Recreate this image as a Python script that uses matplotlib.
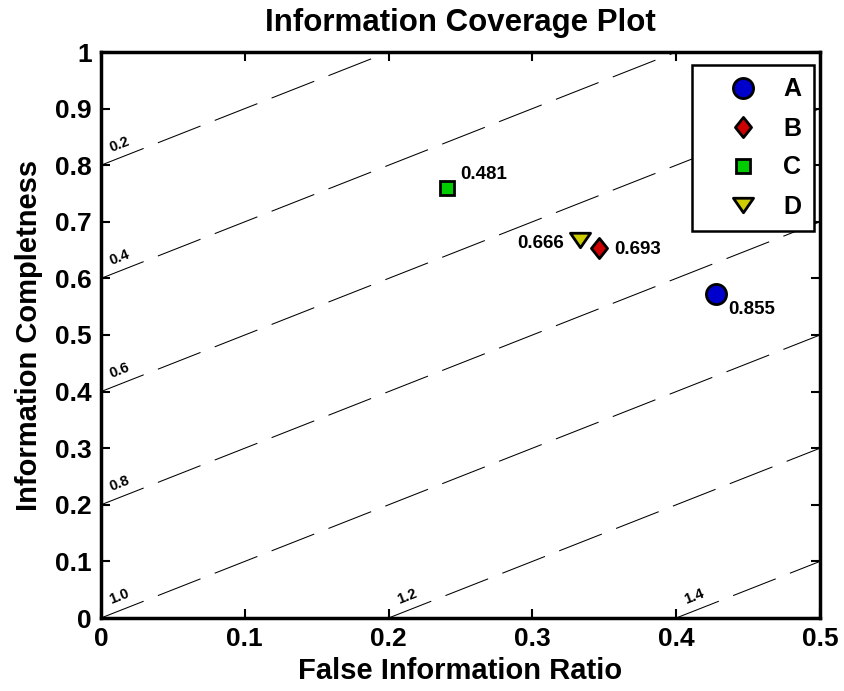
import matplotlib
matplotlib.use('Agg')
import matplotlib.pyplot as plt
import numpy as np
from matplotlib.path import Path

# ---------------- data ----------------
names = ['A', 'B', 'C', 'D']
false_ratio = [0.428, 0.346, 0.2405, 0.333]
completeness = [0.573, 0.653, 0.760, 0.667]
value_labels = ['0.855', '0.693', '0.481', '0.666']
colors = ['#0000CC', '#CC0000', '#00CC00', '#CCCC00']

contour_levels = [0.2, 0.4, 0.6, 0.8, 1.0, 1.2, 1.4]
contour_labels = ['0.2', '0.4', '0.6', '0.8', '1.0', '1.2', '1.4']

xticks = [0, 0.1, 0.2, 0.3, 0.4, 0.5]
xticklabels = ['0', '0.1', '0.2', '0.3', '0.4', '0.5']
yticks = [0, 0.1, 0.2, 0.3, 0.4, 0.5, 0.6, 0.7, 0.8, 0.9, 1.0]
yticklabels = ['0', '0.1', '0.2', '0.3', '0.4', '0.5', '0.6', '0.7', '0.8', '0.9', '1']

# ---------------- style ----------------
plt.rcParams['font.family'] = ['Liberation Sans', 'DejaVu Sans']
plt.rcParams['font.weight'] = 'bold'
plt.rcParams['lines.scale_dashes'] = False

diamond = Path([(0, 1), (0.8, 0), (0, -1), (-0.8, 0), (0, 1)],
               [Path.MOVETO, Path.LINETO, Path.LINETO, Path.LINETO, Path.CLOSEPOLY])
tri_down = Path([(-1, 0.72), (1, 0.72), (0, -0.72), (-1, 0.72)],
                [Path.MOVETO, Path.LINETO, Path.LINETO, Path.CLOSEPOLY])
markers = ['o', diamond, 's', tri_down]
msizes = [14.5, 14.5, 10.3, 14.5]
offsets = [(8.6, -11.5), (11.5, -0.5), (9.4, 9.4), (-11.5, -2)]
has = ['left', 'left', 'left', 'right']

fig = plt.figure(figsize=(8.45, 6.91), dpi=100)
ax = fig.add_axes([101 / 845, 1 - 618 / 691, 719 / 845, 566 / 691])

# dashed iso-lines: value = 1 - completeness + false_ratio
xmin, xmax, ymin, ymax = 0, 0.5, 0, 1
for c, lab in zip(contour_levels, contour_labels):
    x0 = max(xmin, c - 1)
    x1 = min(xmax, c)
    xs = np.array([x0, x1])
    ys = xs + (1 - c)
    ax.plot(xs, ys, color='black', lw=0.75, dashes=(33, 11), zorder=1)
    tx = x0 + 0.008
    ax.text(tx, tx + (1 - c) + 0.011, lab, fontsize=10.5, fontweight='bold',
            rotation=21.5, rotation_mode='anchor', ha='left', va='bottom', zorder=2)

handles = []
for i in range(len(names)):
    h, = ax.plot(false_ratio[i], completeness[i], linestyle='none', marker=markers[i],
                 ms=msizes[i], mfc=colors[i], mec='black', mew=2, label=names[i], zorder=5)
    handles.append(h)
    ax.annotate(value_labels[i], (false_ratio[i], completeness[i]), xytext=offsets[i],
                textcoords='offset points', ha=has[i], va='center',
                fontsize=13.5, fontweight='bold', zorder=6)

ax.set_xlim(xmin, xmax)
ax.set_ylim(ymin, ymax)
ax.set_xticks(xticks)
ax.set_xticklabels(xticklabels)
ax.set_yticks(yticks)
ax.set_yticklabels(yticklabels)
ax.tick_params(direction='in', length=6.5, width=1.5, top=True, right=True,
               labelsize=19, pad=6.5)
for s in ax.spines.values():
    s.set_linewidth(2.5)

ax.set_xlabel('False Information Ratio', fontsize=21, fontweight='bold', labelpad=4)
ax.set_ylabel('Information Completness', fontsize=21, fontweight='bold', labelpad=9)
ax.set_title('Information Coverage Plot', fontsize=22.5, fontweight='bold', pad=15)

leg = ax.legend(handles=handles, loc='upper right',
                bbox_to_anchor=((814 - 101) / 719, (618 - 65) / 566),
                borderaxespad=0, fontsize=18, handlelength=3.04, handletextpad=0.1,
                labelspacing=0.6, borderpad=0.5, fancybox=False, framealpha=1,
                edgecolor='black')
leg.get_frame().set_linewidth(1.8)

fig.savefig('out.png', dpi=100)
